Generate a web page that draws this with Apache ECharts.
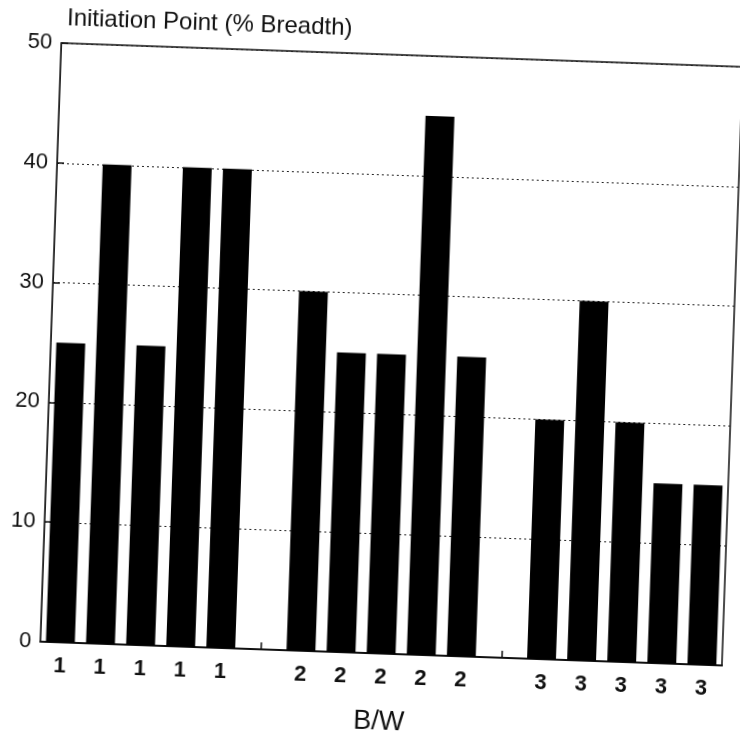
<!DOCTYPE html>
<html>
<head>
<meta charset="utf-8">
<script src="https://cdn.jsdelivr.net/npm/echarts@6/dist/echarts.min.js"></script>
<style>
  html, body { margin: 0; padding: 0; background: #fff; overflow: hidden; }
  #chart { width: 740px; height: 740px; transform: rotate(2deg); transform-origin: 50% 50%; }
</style>
</head>
<body>
<div id="chart"></div>
<script>
// Initiation point by B/W group, five specimens per group
const groupLabels = ['1', '2', '3'];
const group1 = [25, 40, 25, 40, 40];
const group2 = [30, 25, 25, 45, 25];
const group3 = [20, 30, 20, 15, 15];
const yTicks = [0, 10, 20, 30, 40, 50];
const yTitle = 'Initiation Point (% Breadth)';
const xTitle = 'B/W';

// Lay the groups out on one category axis with an empty slot between groups
const groups = [group1, group2, group3];
const categories = [];
const values = [];
const gapIndices = [];
groups.forEach((g, gi) => {
  if (gi > 0) {
    gapIndices.push(categories.length);
    categories.push('');
    values.push(null);
  }
  g.forEach(v => {
    categories.push(groupLabels[gi]);
    values.push(v);
  });
});

const font = 'Liberation Sans, Arial, Helvetica, sans-serif';
const chart = echarts.init(document.getElementById('chart'), null, { renderer: 'canvas' });

chart.setOption({
  animation: false,
  backgroundColor: '#fff',
  title: {
    text: yTitle,
    left: 50,
    top: 12,
    textStyle: { fontFamily: font, fontSize: 24, fontWeight: 'normal', color: '#111' }
  },
  grid: {
    left: 50, right: 8, top: 54, bottom: 87,
    show: true, borderColor: '#111', borderWidth: 1.5, backgroundColor: 'transparent'
  },
  xAxis: {
    type: 'category',
    data: categories,
    boundaryGap: true,
    name: xTitle,
    nameLocation: 'middle',
    nameGap: 55,
    nameTextStyle: { fontFamily: font, fontSize: 27, color: '#111' },
    axisLine: { show: true, lineStyle: { color: '#111', width: 2 } },
    axisTick: {
      show: true, inside: true, length: 7, alignWithLabel: true,
      interval: (i) => gapIndices.indexOf(i) >= 0,
      lineStyle: { color: '#111', width: 1.5 }
    },
    axisLabel: {
      interval: 0, margin: 13,
      fontFamily: font, fontSize: 22, fontWeight: 'bold', color: '#111'
    },
    splitLine: { show: false }
  },
  yAxis: {
    type: 'value',
    min: yTicks[0],
    max: yTicks[yTicks.length - 1],
    interval: yTicks[1] - yTicks[0],
    axisLine: { show: true, lineStyle: { color: '#222', width: 1 } },
    axisTick: { show: true, inside: true, length: 7, lineStyle: { color: '#111', width: 1.5 } },
    axisLabel: { margin: 9, fontFamily: font, fontSize: 22, color: '#111' },
    splitLine: { show: true, lineStyle: { color: '#222', width: 1, type: [2, 3] } }
  },
  series: [{
    type: 'bar',
    data: values,
    barCategoryGap: '28%',
    itemStyle: { color: '#000' }
  }]
});
</script>
</body>
</html>
